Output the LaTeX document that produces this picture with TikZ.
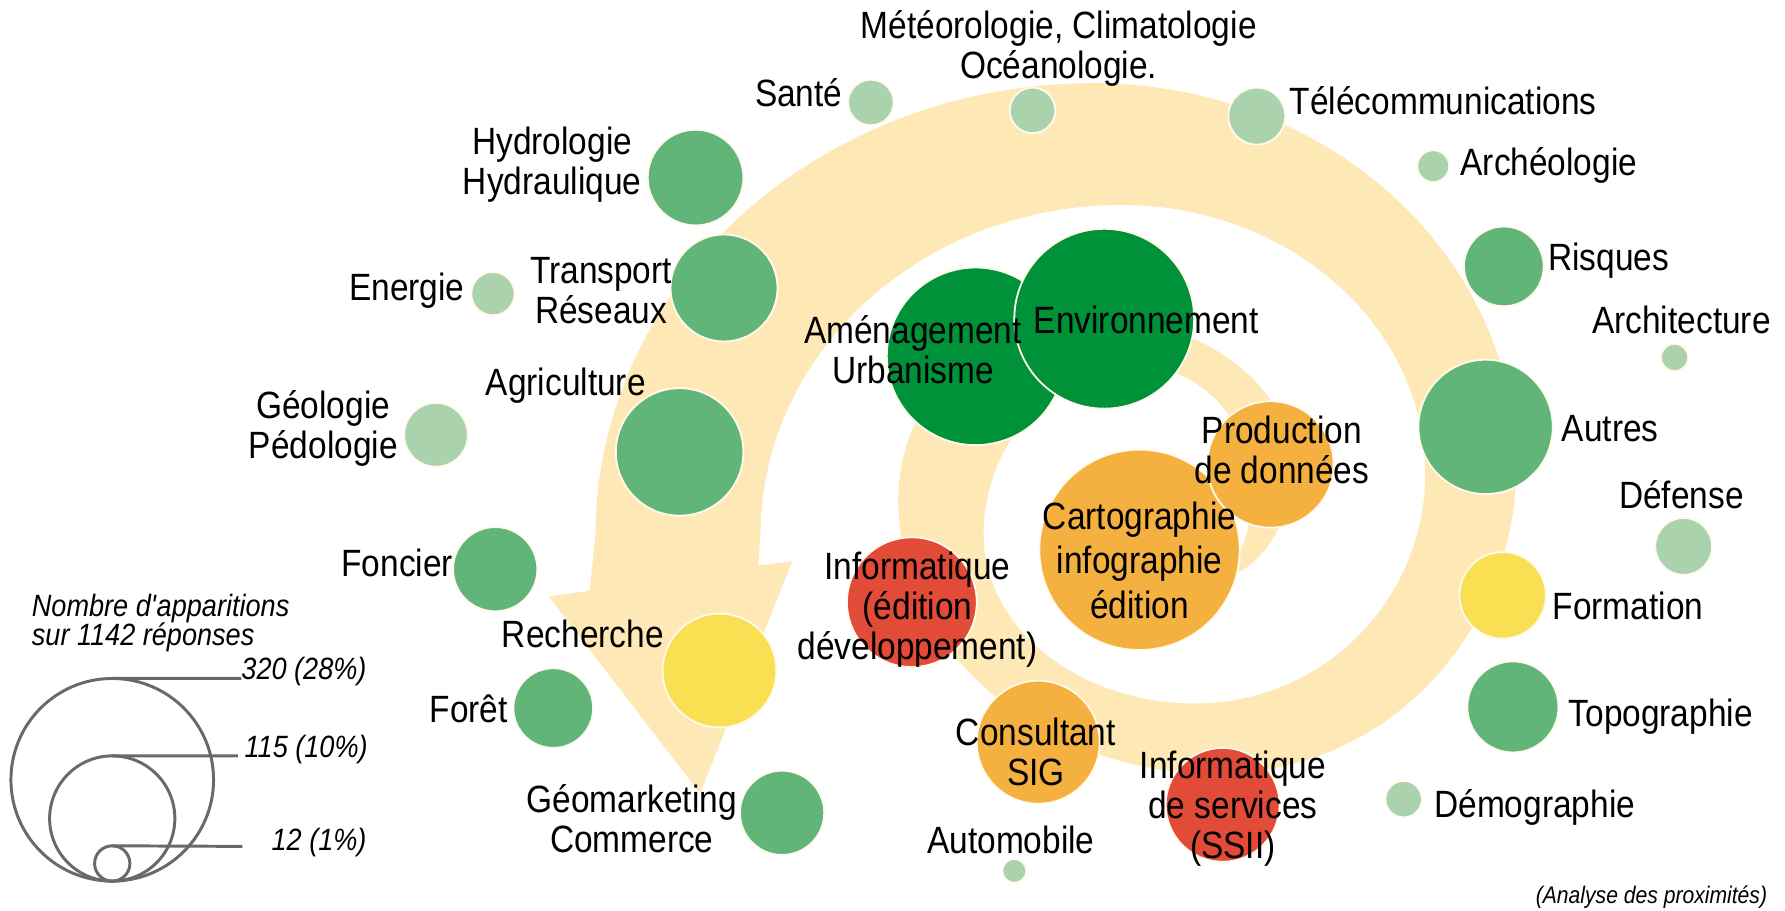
\documentclass[tikz,border=0pt]{standalone}
\usepackage{fontspec}
\setmainfont{Liberation Sans}[FakeStretch=0.88]
\definecolor{bandc}{RGB}{254,233,182}
\definecolor{dkg}{RGB}{0,146,56}
\definecolor{mdg}{RGB}{98,181,121}
\definecolor{ltg}{RGB}{170,211,173}
\definecolor{org}{RGB}{245,177,64}
\definecolor{rdc}{RGB}{226,75,55}
\definecolor{ylw}{RGB}{249,223,82}
\definecolor{rim}{RGB}{255,250,235}
\definecolor{leggray}{RGB}{105,105,105}
\newcommand{\mlab}[1]{\begin{tabular}[t]{@{}c@{}}#1\end{tabular}}
\begin{document}
\begin{tikzpicture}[x=0.1mm, y=-0.1mm,
  bub/.style={circle, inner sep=0pt, outer sep=0pt, draw=rim, line width=0.45pt},
  lab/.style={inner sep=0pt, outer sep=0pt, font=\fontsize{9.5}{10}\selectfont},
  leg/.style={inner sep=0pt, outer sep=0pt, font=\fontsize{7.7}{7.2}\selectfont\itshape},
  legc/.style={circle, inner sep=0pt, outer sep=0pt, draw=leggray, line width=0.74pt},
  legl/.style={draw=leggray, line width=0.74pt}]
\useasboundingbox (0,0) rectangle (1568,800);

% spiral arrow band (display coordinates, angles clockwise on screen)
\fill[bandc]
  plot[domain=90:0, samples=20, variable=\t] ({1060+75*cos(\t)},{410+100*sin(\t)})
  -- plot[domain=360:270, samples=30, variable=\t] ({950+185*cos(\t)},{410+133*sin(\t)})
  -- plot[domain=270:180, samples=30, variable=\t] ({950+161*cos(\t)},{440+163*sin(\t)})
  -- plot[domain=180:90, samples=40, variable=\t] ({1070+281*cos(\t)},{440+240*sin(\t)})
  -- plot[domain=90:0, samples=40, variable=\t] ({1070+262*cos(\t)},{410+270*sin(\t)})
  -- plot[domain=360:270, samples=50, variable=\t] ({960+372*cos(\t)},{410+337*sin(\t)})
  -- plot[domain=270:180, samples=50, variable=\t] ({960+437*cos(\t)},{470+397*sin(\t)})
  -- (518,519) -- (482,524) -- (615,697) -- (696,493) -- (666,497)
  -- plot[domain=180:270, samples=50, variable=\t] ({985+317*cos(\t)},{470+290*sin(\t)})
  -- plot[domain=270:360, samples=40, variable=\t] ({985+267*cos(\t)},{416+236*sin(\t)})
  -- plot[domain=0:90, samples=40, variable=\t] ({1050+202*cos(\t)},{416+202*sin(\t)})
  -- plot[domain=90:180, samples=30, variable=\t] ({1050+186*cos(\t)},{470+148*sin(\t)})
  -- plot[domain=180:270, samples=30, variable=\t] ({1000+136*cos(\t)},{470+148*sin(\t)})
  -- plot[domain=270:360, samples=20, variable=\t] ({1000+100*cos(\t)},{430+108*sin(\t)})
  -- plot[domain=0:90, samples=20, variable=\t] ({1060+40*cos(\t)},{430+80*sin(\t)})
  -- cycle;

% bubbles
\node[bub, fill=ltg, minimum size=4mm] (sante) at (765,90) {};
\node[bub, fill=ltg, minimum size=4mm] (meteo) at (907,97) {};
\node[bub, fill=ltg, minimum size=5mm] (telecom) at (1104,102) {};
\node[bub, fill=ltg, minimum size=2.8mm] (archeo) at (1259,146) {};
\node[bub, fill=mdg, minimum size=7mm] (risques) at (1321,234) {};
\node[bub, fill=ltg, minimum size=2.4mm] (archi) at (1471,314) {};
\node[bub, fill=mdg, minimum size=11.8mm] (autres) at (1305,375) {};
\node[bub, fill=ltg, minimum size=5mm] (defense) at (1479,480) {};
\node[bub, fill=ylw, minimum size=7.6mm] (formation) at (1320,523) {};
\node[bub, fill=mdg, minimum size=8mm] (topo) at (1329,621) {};
\node[bub, fill=ltg, minimum size=3.2mm] (demo) at (1233,702) {};
\node[bub, fill=rdc, minimum size=10mm] (ssii) at (1074,707) {};
\node[bub, fill=ltg, minimum size=2.1mm] (auto) at (891,765) {};
\node[bub, fill=org, minimum size=10.8mm] (consult) at (912,652) {};
\node[bub, fill=rdc, minimum size=11.4mm] (infoed) at (801,529) {};
\node[bub, fill=org, minimum size=17.6mm] (carto) at (1001,483) {};
\node[bub, fill=org, minimum size=11.1mm] (prod) at (1116,408) {};
\node[bub, fill=dkg, minimum size=15.6mm] (amen) at (857,313) {};
\node[bub, fill=dkg, minimum size=15.8mm] (env) at (970,280) {};
\node[bub, fill=mdg, minimum size=8.4mm] (hydro) at (611,156) {};
\node[bub, fill=mdg, minimum size=9.4mm] (transport) at (636,253) {};
\node[bub, fill=ltg, minimum size=3.8mm] (energie) at (433,258) {};
\node[bub, fill=mdg, minimum size=11.2mm] (agri) at (597,397) {};
\node[bub, fill=ltg, minimum size=5.6mm] (geol) at (383,382) {};
\node[bub, fill=mdg, minimum size=7.4mm] (foncier) at (435,500) {};
\node[bub, fill=ylw, minimum size=10mm] (recherche) at (632,589) {};
\node[bub, fill=mdg, minimum size=7mm] (foret) at (486,622) {};
\node[bub, fill=mdg, minimum size=7.4mm] (geomark) at (687,714) {};

% labels
\node[lab, anchor=base east] (tsante) at (740,94) {Santé};
\node[lab, anchor=base] (tmeteo) at (930,34) {\mlab{Météorologie, Climatologie\\Océanologie.}};
\node[lab, anchor=base west] (ttelecom) at (1133,101) {Télécommunications};
\node[lab, anchor=base west] (tarcheo) at (1283,154) {Archéologie};
\node[lab, anchor=base west] (trisques) at (1360,238) {Risques};
\node[lab, anchor=base] (tarchi) at (1477,293) {Architecture};
\node[lab, anchor=base west] (tautres) at (1372,388) {Autres};
\node[lab, anchor=base] (tdefense) at (1477,447) {Défense};
\node[lab, anchor=base west] (tformation) at (1364,544) {Formation};
\node[lab, anchor=base west] (ttopo) at (1378,638) {Topographie};
\node[lab, anchor=base west] (tdemo) at (1260,718) {Démographie};
\node[lab, anchor=base] (tssii) at (1083,684) {\mlab{Informatique\\de services\\(SSII)}};
\node[lab, anchor=base] (tauto) at (888,750) {Automobile};
\node[lab, anchor=base] (tconsult) at (910,655) {\mlab{Consultant\\SIG}};
\node[lab, anchor=base] (tinfoed) at (806,509) {\mlab{Informatique\\(édition\\développement)}};
\node[lab, anchor=base, font=\fontsize{9.5}{11.1}\selectfont] (tcarto) at (1001,465) {\mlab{Cartographie\\infographie\\édition}};
\node[lab, anchor=base] (tprod) at (1126,390) {\mlab{Production\\de données}};
\node[lab, anchor=base] (tamen) at (802,302) {\mlab{Aménagement\\Urbanisme}};
\node[lab, anchor=base] (tenv) at (1007,293) {Environnement};
\node[lab, anchor=base] (thydro) at (485,136) {\mlab{Hydrologie\\Hydraulique}};
\node[lab, anchor=base] (ttransport) at (528,249) {\mlab{Transport\\Réseaux}};
\node[lab, anchor=base east] (tenergie) at (408,264) {Energie};
\node[lab, anchor=base] (tagri) at (497,347) {Agriculture};
\node[lab, anchor=base] (tgeol) at (284,368) {\mlab{Géologie\\Pédologie}};
\node[lab, anchor=base east] (tfoncier) at (398,506) {Foncier};
\node[lab, anchor=base] (trecherche) at (512,569) {Recherche};
\node[lab, anchor=base east] (tforet) at (446,635) {Forêt};
\node[lab, anchor=base] (tgeomark) at (555,714) {\mlab{Géomarketing\\Commerce}};

% legend
\node[leg, anchor=base west] (lt1) at (28,542) {Nombre d\textquotesingle apparitions};
\node[leg, anchor=base west] (lt2) at (28,567) {sur 1142 réponses};
\node[legc, minimum size=17.8mm] (L1) at (98.6,685) {};
\node[legc, minimum size=11mm] (L2) at (98.6,719) {};
\node[legc, minimum size=3.1mm] (L3) at (98.6,758.5) {};
\coordinate (L1e) at (212,596);
\coordinate (L2e) at (209,664);
\coordinate (L3e) at (213,743.5);
\draw[legl] (L1.north) -- (L1e);
\draw[legl] (L2.north) -- (L2e);
\draw[legl] (L3.north) -- (L3e);
\node[leg, anchor=base east] (lv1) at (322,597) {320 (28\%)};
\node[leg, anchor=base east] (lv2) at (323,665) {115 (10\%)};
\node[leg, anchor=base east] (lv3) at (322,747) {12 (1\%)};

\node[inner sep=0pt, anchor=base east, font=\fontsize{6}{7}\selectfont\itshape] (note) at (1553,794) {(Analyse des proximités)};
\end{tikzpicture}
\end{document}
